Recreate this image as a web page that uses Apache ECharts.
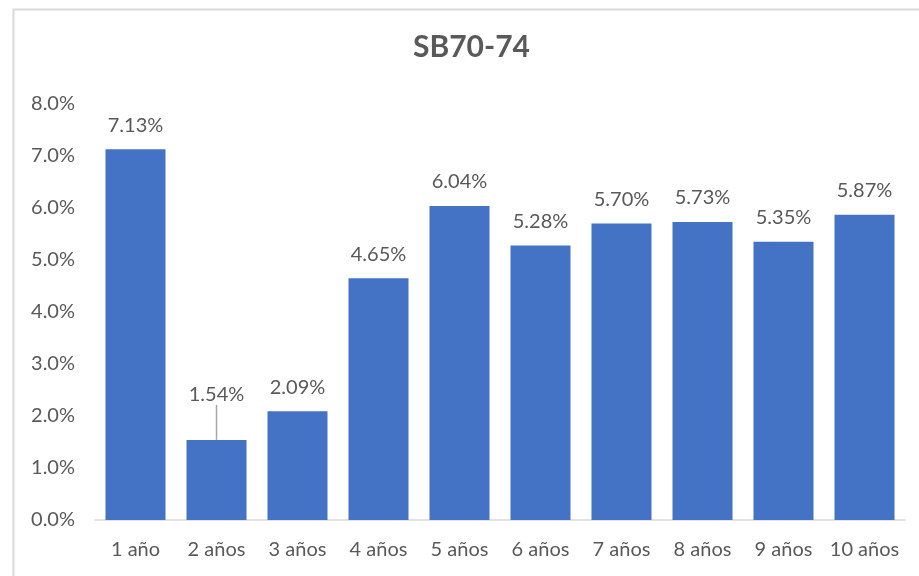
<!DOCTYPE html>
<html>
<head>
<meta charset="utf-8">
<script src="https://cdn.jsdelivr.net/npm/echarts@6/dist/echarts.min.js"></script>
<style>html,body{margin:0;padding:0;background:#fff;}#c{width:919px;height:576px;}</style>
</head>
<body>
<div id="c"></div>
<script>
var titleText = 'SB70-74';
var categories = ['1 año','2 años','3 años','4 años','5 años','6 años','7 años','8 años','9 años','10 años'];
var values = [7.13, 1.54, 2.09, 4.65, 6.04, 5.28, 5.70, 5.73, 5.35, 5.87];
var yTicks = [0, 1, 2, 3, 4, 5, 6, 7, 8];

var FONT = 'Lato, "Open Sans", sans-serif';
var seriesData = values.map(function (v, i) {
  return i === 1 ? {value: v, labelLine: {show: true}} : {value: v, labelLine: {show: false}};
});
var chart = echarts.init(document.getElementById('c'));
chart.setOption({
  animation: false,
  graphic: [{
    type: 'rect', left: 11, top: 7, shape: {width: 1000, height: 700},
    style: {fill: 'none', stroke: '#d9d9d9', lineWidth: 2}
  }],
  title: {
    text: titleText, left: 413, top: 32, padding: 0,
    textStyle: {fontFamily: FONT, fontSize: 30, fontWeight: 'bold', color: '#595959'}
  },
  grid: {left: 95, right: 14, top: 104, bottom: 56, containLabel: false},
  xAxis: {
    type: 'category', data: categories,
    axisLine: {lineStyle: {color: '#d9d9d9', width: 1.5}},
    axisTick: {show: false},
    axisLabel: {fontFamily: FONT, fontSize: 20, color: '#595959', margin: 20, interval: 0}
  },
  yAxis: {
    type: 'value', min: yTicks[0], max: yTicks[yTicks.length - 1], interval: 1,
    axisLine: {show: false}, axisTick: {show: false}, splitLine: {show: false},
    axisLabel: {fontFamily: FONT, fontSize: 20, color: '#595959', margin: 20,
      formatter: function (v) { return v.toFixed(1) + '%'; }}
  },
  series: [{
    type: 'bar', data: seriesData, barWidth: 60,
    itemStyle: {color: '#4472c4'},
    label: {show: true, position: 'top', distance: 14, fontFamily: FONT, fontSize: 20, color: '#595959',
      formatter: function (p) { return p.value.toFixed(2) + '%'; }},
    labelLayout: function (p) { if (p.dataIndex === 1) { return {dy: -21}; } return {}; },
    labelLine: {show: false, length2: 0, lineStyle: {color: '#a6a6a6', width: 1.5}}
  }]
});
</script>
</body>
</html>
